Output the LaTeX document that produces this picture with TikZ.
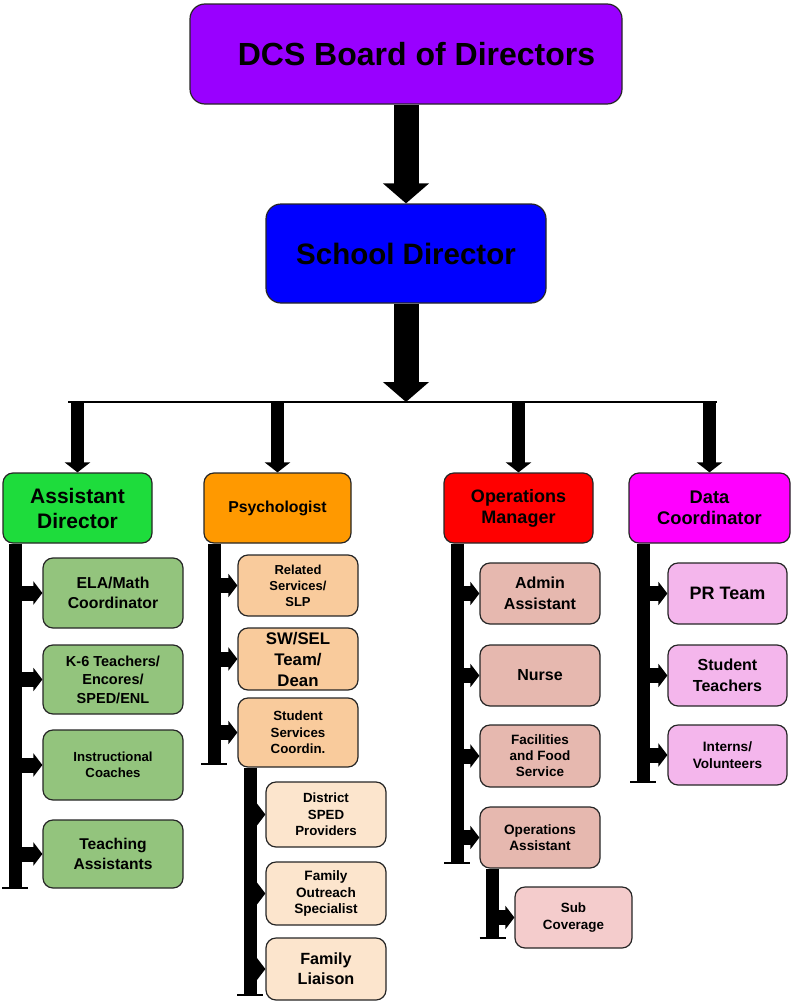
\documentclass[tikz,border=0pt]{standalone}
\usepackage{fontspec}
\setmainfont{Liberation Sans}
\usepackage{tikz}
\usetikzlibrary{arrows, arrows.meta}
\definecolor{boardpurple}{HTML}{9900FF}
\definecolor{directorblue}{HTML}{0000FF}
\definecolor{assistgreen}{RGB}{30,220,60}
\definecolor{psychorange}{HTML}{FF9900}
\definecolor{opsred}{HTML}{FF0000}
\definecolor{datamagenta}{HTML}{FF00FF}
\definecolor{teachgreen}{HTML}{93C47D}
\definecolor{servorange}{HTML}{F9CB9C}
\definecolor{famorange}{HTML}{FCE5CD}
\definecolor{opsrose}{HTML}{E6B8AF}
\definecolor{subrose}{HTML}{F4CCCC}
\definecolor{datapink}{RGB}{244,182,236}
\newcommand{\boxfont}[2]{\fontsize{#1}{#2}\selectfont\bfseries}
\tikzset{box/.style = {shape = rectangle, draw = black!85, line width = 1.2pt, rounded corners = 10pt, align = center, inner sep = 0pt}}
\tikzset{bigbox/.style = {box, rounded corners = 15pt}}
\tikzset{bigarrow/.style = {line width = 25pt, -{Triangle[width = 45pt, length = 20pt]}}}
\tikzset{droparrow/.style = {line width = 13pt, -{Triangle[width = 25pt, length = 10pt]}}}
\tikzset{branch/.style = {line width = 15pt, -{Triangle[width = 23pt, length = 9pt]}}}
\tikzset{bar/.style = {line width = 13pt}}
\tikzset{foot/.style = {line width = 2.5pt}}
\tikzset{bus/.style = {line width = 2pt}}

\begin{document}
\begin{tikzpicture}[x = 1pt, y = -1pt]
	\useasboundingbox (0, 0) rectangle (791, 1001);

	% top of the chart
	\node[bigbox, fill = boardpurple, minimum width = 432pt, minimum height = 100pt, font = \boxfont{32}{38}] (board) at (406, 54) {\hspace*{21pt}\raisebox{-4pt}{DCS Board of Directors}};
	\node[bigbox, fill = directorblue, minimum width = 280pt, minimum height = 99pt, font = \boxfont{29.5}{35}] (school) at (406, 253.5) {School Director};

	\coordinate (busmid) at (406, 402);
	\coordinate (busL) at (68, 402);
	\coordinate (busR) at (717, 402);

	% second row
	\node[box, fill = assistgreen, minimum width = 149pt, minimum height = 70pt, font = \boxfont{21}{25}] (ad) at (77.5, 508) {Assistant\\Director};
	\node[box, fill = psychorange, minimum width = 147pt, minimum height = 70pt, font = \boxfont{15.8}{19}] (psych) at (277.5, 508) {Psychologist};
	\node[box, fill = opsred, minimum width = 149pt, minimum height = 70pt, font = \boxfont{18}{21}] (ops) at (518.5, 508) {Operations\\Manager};
	\node[box, fill = datamagenta, minimum width = 161pt, minimum height = 70pt, font = \boxfont{18.3}{21}] (data) at (709.5, 508) {Data\\Coordinator};

	% assistant director column
	\node[box, fill = teachgreen, minimum width = 140pt, minimum height = 70pt, font = \boxfont{15.8}{20}] (ela) at (113, 593) {ELA/Math\\Coordinator};
	\node[box, fill = teachgreen, minimum width = 140pt, minimum height = 69pt, font = \boxfont{14.5}{18.5}] (kteach) at (113, 679.5) {K-6 Teachers/\\Encores/\\SPED/ENL};
	\node[box, fill = teachgreen, minimum width = 140pt, minimum height = 70pt, font = \boxfont{13.2}{16.5}] (coach) at (113, 765) {Instructional\\Coaches};
	\node[box, fill = teachgreen, minimum width = 140pt, minimum height = 68pt, font = \boxfont{15.6}{20}] (ta) at (113, 854) {Teaching\\Assistants};

	% psychologist column
	\node[box, fill = servorange, minimum width = 120pt, minimum height = 61pt, font = \boxfont{13}{16}] (rs) at (298, 585.5) {Related\\Services/\\SLP};
	\node[box, fill = servorange, minimum width = 120pt, minimum height = 62pt, font = \boxfont{16.8}{21}] (swsel) at (298, 659) {SW/SEL\\Team/\\Dean};
	\node[box, fill = servorange, minimum width = 120pt, minimum height = 69pt, font = \boxfont{13.3}{16.7}] (ssc) at (298, 732.5) {Student\\Services\\Coordin.};
	\node[box, fill = famorange, minimum width = 120pt, minimum height = 65pt, font = \boxfont{13.3}{16.5}] (dsp) at (326, 814.5) {District\\SPED\\Providers};
	\node[box, fill = famorange, minimum width = 120pt, minimum height = 63pt, font = \boxfont{13.6}{16.5}] (fos) at (326, 893.5) {Family\\Outreach\\Specialist};
	\node[box, fill = famorange, minimum width = 120pt, minimum height = 62pt, font = \boxfont{16.2}{20}] (fl) at (326, 969) {Family\\Liaison};

	% operations column
	\node[box, fill = opsrose, minimum width = 120pt, minimum height = 61pt, font = \boxfont{16}{21}] (admin) at (540, 593.5) {Admin\\Assistant};
	\node[box, fill = opsrose, minimum width = 120pt, minimum height = 61pt, font = \boxfont{16}{20}] (nurse) at (540, 675.5) {Nurse};
	\node[box, fill = opsrose, minimum width = 120pt, minimum height = 62pt, font = \boxfont{13.5}{16}] (ffs) at (540, 756) {Facilities\\and Food\\Service};
	\node[box, fill = opsrose, minimum width = 120pt, minimum height = 61pt, font = \boxfont{13.6}{16.7}] (oa) at (540, 837.5) {Operations\\Assistant};
	\node[box, fill = subrose, minimum width = 117pt, minimum height = 61pt, font = \boxfont{13.4}{16.7}] (subcov) at (573.5, 917.5) {Sub\\Coverage};

	% data coordinator column
	\node[box, fill = datapink, minimum width = 119pt, minimum height = 61pt, font = \boxfont{18}{21}] (pr) at (727.5, 593.5) {PR Team};
	\node[box, fill = datapink, minimum width = 119pt, minimum height = 61pt, font = \boxfont{16}{21.5}] (st) at (727.5, 675.5) {Student\\Teachers};
	\node[box, fill = datapink, minimum width = 119pt, minimum height = 60pt, font = \boxfont{13.6}{16.7}] (iv) at (727.5, 755) {Interns/\\Volunteers};

	% bar ends
	\coordinate (adend) at (15, 888);
	\coordinate (psychend) at (214, 764);
	\coordinate (sscend) at (250, 995);
	\coordinate (opsend) at (457, 863);
	\coordinate (oaend) at (492.5, 938);
	\coordinate (dataend) at (643, 782);

	% arrows down the middle
	\draw[bigarrow] (board) -- (school);
	\draw[bigarrow] (school) -- (busmid);
	\draw[bus] (busL) -- (busR);
	\draw[droparrow] (ad |- busL) -- (ad);
	\draw[droparrow] (psych |- busL) -- (psych);
	\draw[droparrow] (ops |- busL) -- (ops);
	\draw[droparrow] (data |- busL) -- (data);

	% bars
	\draw[bar] (ad.south -| adend) -- (adend);
	\draw[bar] (psych.south -| psychend) -- (psychend);
	\draw[bar] (ssc.south -| sscend) -- (sscend);
	\draw[bar] (ops.south -| opsend) -- (opsend);
	\draw[bar] (oa.south -| oaend) -- (oaend);
	\draw[bar] (data.south -| dataend) -- (dataend);
	\draw[foot] ([xshift = -13pt]adend) -- ([xshift = 13pt]adend);
	\draw[foot] ([xshift = -13pt]psychend) -- ([xshift = 13pt]psychend);
	\draw[foot] ([xshift = -13pt]sscend) -- ([xshift = 13pt]sscend);
	\draw[foot] ([xshift = -13pt]opsend) -- ([xshift = 13pt]opsend);
	\draw[foot] ([xshift = -13pt]oaend) -- ([xshift = 13pt]oaend);
	\draw[foot] ([xshift = -13pt]dataend) -- ([xshift = 13pt]dataend);

	% branches
	\draw[branch] (adend |- ela) -- (ela);
	\draw[branch] (adend |- kteach) -- (kteach);
	\draw[branch] (adend |- coach) -- (coach);
	\draw[branch] (adend |- ta) -- (ta);
	\draw[branch] (psychend |- rs) -- (rs);
	\draw[branch] (psychend |- swsel) -- (swsel);
	\draw[branch] (psychend |- ssc) -- (ssc);
	\draw[branch] (sscend |- dsp) -- (dsp);
	\draw[branch] (sscend |- fos) -- (fos);
	\draw[branch] (sscend |- fl) -- (fl);
	\draw[branch] (opsend |- admin) -- (admin);
	\draw[branch] (opsend |- nurse) -- (nurse);
	\draw[branch] (opsend |- ffs) -- (ffs);
	\draw[branch] (opsend |- oa) -- (oa);
	\draw[branch] (oaend |- subcov) -- (subcov);
	\draw[branch] (dataend |- pr) -- (pr);
	\draw[branch] (dataend |- st) -- (st);
	\draw[branch] (dataend |- iv) -- (iv);
\end{tikzpicture}
\end{document}
